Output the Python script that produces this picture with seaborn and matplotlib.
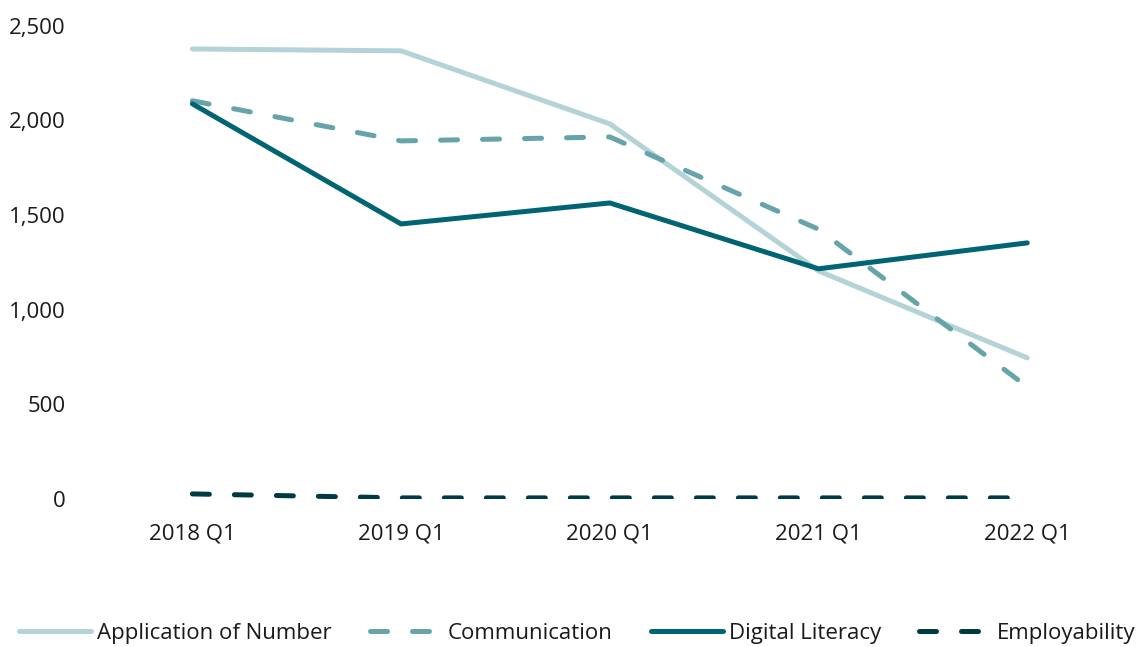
import matplotlib

matplotlib.use("Agg")
import matplotlib.pyplot as plt
import pandas as pd
import seaborn as sns

# Data
quarters = ["2018 Q1", "2019 Q1", "2020 Q1", "2021 Q1", "2022 Q1"]
application_of_number = [2378, 2368, 1982, 1205, 745]
communication = [2104, 1892, 1913, 1425, 592]
digital_literacy = [2088, 1453, 1564, 1216, 1353]
employability = [26, 5, 5, 5, 5]

series_names = ["Application of Number", "Communication", "Digital Literacy", "Employability"]
colors = ["#b3d3d6", "#66a3aa", "#006473", "#003b44"]

df = pd.DataFrame(
    {
        "quarter": quarters * 4,
        "value": application_of_number + communication + digital_literacy + employability,
        "series": [s for s in series_names for _ in quarters],
    }
)

sns.set_theme(style="white")
plt.rcParams["font.family"] = ["Open Sans", "DejaVu Sans"]
plt.rcParams["lines.solid_capstyle"] = "round"
plt.rcParams["lines.dash_capstyle"] = "round"

fig, ax = plt.subplots(figsize=(11.43, 6.47), dpi=100)
fig.subplots_adjust(left=0.077, right=0.990, bottom=0.229, top=0.960)

dash_map = {
    "Application of Number": "",
    "Communication": (3.4, 5),
    "Digital Literacy": "",
    "Employability": (3.4, 5),
}

sns.lineplot(
    data=df,
    x="quarter",
    y="value",
    hue="series",
    style="series",
    hue_order=series_names,
    style_order=series_names,
    palette=dict(zip(series_names, colors)),
    dashes=dash_map,
    linewidth=3.6,
    legend=False,
    ax=ax,
)

ax.set_xlim(-0.5, 4.5)
ax.set_ylim(0, 2500)
ax.set_yticks([0, 500, 1000, 1500, 2000, 2500])
ax.set_yticklabels(["0", "500", "1,000", "1,500", "2,000", "2,500"])
ax.set_xlabel("")
ax.set_ylabel("")
ax.tick_params(axis="both", length=0, labelsize=16, colors="#1a1a1a")
ax.tick_params(axis="y", pad=16)
ax.tick_params(axis="x", pad=18)
sns.despine(ax=ax, left=True, bottom=True)
ax.grid(False)

handles = ax.get_lines()[:4]
fig.legend(
    handles,
    series_names,
    loc="center",
    bbox_to_anchor=(0.505, 0.021),
    ncol=4,
    frameon=False,
    fontsize=16,
    handlelength=3.25,
    handletextpad=0.27,
    columnspacing=1.7,
    labelcolor="#1a1a1a",
)

fig.savefig("out.png", dpi=100)
